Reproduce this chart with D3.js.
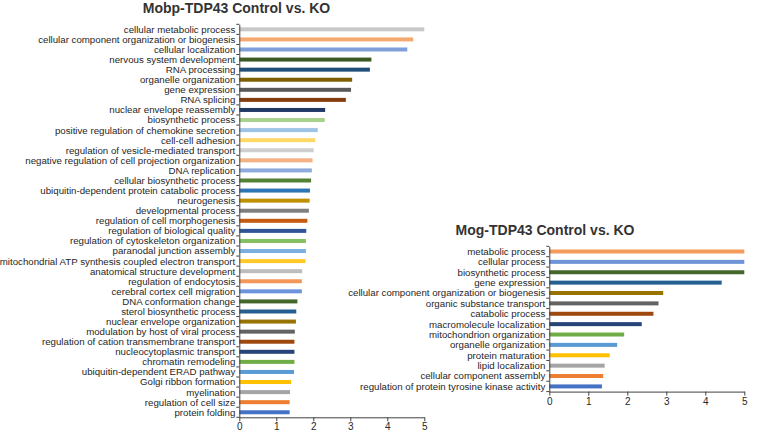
<!DOCTYPE html>
<html>
<head>
<meta charset="utf-8">
<script src="https://cdn.jsdelivr.net/npm/d3@7/dist/d3.min.js"></script>
<style>
  html, body { margin: 0; padding: 0; background: #ffffff; }
  svg { display: block; }
  text { font-family: "Liberation Sans", Arial, sans-serif; }
</style>
</head>
<body>
<svg id="chart" width="761" height="432"></svg>
<script>
// ---- Data ----
const leftTitle = "Mobp-TDP43 Control vs. KO";
const leftCategories = [
  "cellular metabolic process",
  "cellular component organization or biogenesis",
  "cellular localization",
  "nervous system development",
  "RNA processing",
  "organelle organization",
  "gene expression",
  "RNA splicing",
  "nuclear envelope reassembly",
  "biosynthetic process",
  "positive regulation of chemokine secretion",
  "cell-cell adhesion",
  "regulation of vesicle-mediated transport",
  "negative regulation of cell projection organization",
  "DNA replication",
  "cellular biosynthetic process",
  "ubiquitin-dependent protein catabolic process",
  "neurogenesis",
  "developmental process",
  "regulation of cell morphogenesis",
  "regulation of biological quality",
  "regulation of cytoskeleton organization",
  "paranodal junction assembly",
  "mitochondrial ATP synthesis coupled electron transport",
  "anatomical structure development",
  "regulation of endocytosis",
  "cerebral cortex cell migration",
  "DNA conformation change",
  "sterol biosynthetic process",
  "nuclear envelope organization",
  "modulation by host of viral process",
  "regulation of cation transmembrane transport",
  "nucleocytoplasmic transport",
  "chromatin remodeling",
  "ubiquitin-dependent ERAD pathway",
  "Golgi ribbon formation",
  "myelination",
  "regulation of cell size",
  "protein folding"
];
const leftValues = [
  5.0, 4.70, 4.54, 3.57, 3.53, 3.05, 3.02, 2.88, 2.32, 2.31,
  2.12, 2.05, 2.01, 1.98, 1.96, 1.94, 1.91, 1.90, 1.88, 1.84,
  1.81, 1.80, 1.80, 1.79, 1.70, 1.69, 1.69, 1.57, 1.54, 1.53,
  1.50, 1.49, 1.49, 1.49, 1.48, 1.40, 1.37, 1.36, 1.36
];
const leftColors = [
  "#c8c8c8", "#f5a96f", "#7f9fdb", "#3a5a24", "#1f4e79", "#7f6000", "#595959", "#843c0c", "#203864", "#a9d18e",
  "#9dc3e6", "#ffd966", "#cfcfcf", "#f4b183", "#8faadc", "#548235", "#2e75b6", "#bf9000", "#7f7f7f", "#c55a11",
  "#2f5597", "#84bf62", "#7aafe0", "#ffca28", "#bdbdbd", "#f4975a", "#6c93db", "#44672b", "#255e91", "#997300",
  "#636363", "#9e480e", "#264478", "#70ad47", "#5b9bd5", "#ffc000", "#a5a5a5", "#ed7d31", "#4472c4"
];

const rightTitle = "Mog-TDP43 Control vs. KO";
const rightCategories = [
  "metabolic process",
  "cellular process",
  "biosynthetic process",
  "gene expression",
  "cellular component organization or biogenesis",
  "organic substance transport",
  "catabolic process",
  "macromolecule localization",
  "mitochondrion organization",
  "organelle organization",
  "protein maturation",
  "lipid localization",
  "cellular component assembly",
  "regulation of protein tyrosine kinase activity"
];
const rightValues = [5.0, 5.0, 5.0, 4.42, 2.92, 2.80, 2.67, 2.37, 1.92, 1.74, 1.55, 1.42, 1.38, 1.35];
const rightColors = [
  "#f49a5a", "#6f95d8", "#44672b", "#255e91", "#997300", "#636363", "#9e480e",
  "#264478", "#70ad47", "#5b9bd5", "#ffc000", "#a5a5a5", "#ed7d31", "#4472c4"
];

const xTicks = [0, 1, 2, 3, 4, 5];

// ---- Drawing ----
const svg = d3.select("#chart");
const axisColor = "#404040";
const textColor = "#262626";

function drawPanel(cfg) {
  const g = svg.append("g");
  const x = d3.scaleLinear().domain([0, 5]).range([cfg.x0, cfg.x1]);
  const y = d3.scaleBand().domain(cfg.categories).range([cfg.y0, cfg.y1]).paddingInner(0).paddingOuter(0);
  const barH = 4;

  // bars
  g.selectAll("rect.bar")
    .data(cfg.categories.map((c, i) => ({ c, v: cfg.values[i], col: cfg.colors[i] })))
    .enter().append("rect")
    .attr("class", "bar")
    .attr("x", x(0))
    .attr("y", d => y(d.c) + y.bandwidth() / 2 - barH / 2)
    .attr("width", d => x(d.v) - x(0))
    .attr("height", barH)
    .attr("fill", d => d.col);

  // y axis (labels)
  const yAxis = g.append("g")
    .attr("transform", `translate(${x(0)},0)`)
    .call(d3.axisLeft(y).tickSize(0).tickPadding(4).tickSizeOuter(0));
  yAxis.select(".domain").attr("stroke", axisColor).attr("stroke-width", 1);
  yAxis.selectAll("text")
    .attr("fill", textColor)
    .style("font-size", cfg.labelSize + "px")
    .attr("dy", "0.35em");

  // boundary tick marks on y axis
  const bounds = cfg.categories.map(c => y(c)).concat([y.range()[1]]);
  g.selectAll("line.ytick")
    .data(bounds)
    .enter().append("line")
    .attr("x1", x(0) - 3).attr("x2", x(0))
    .attr("y1", d => d).attr("y2", d => d)
    .attr("stroke", axisColor).attr("stroke-width", 1);

  // x axis
  const xAxis = g.append("g")
    .attr("transform", `translate(0,${cfg.y1})`)
    .call(d3.axisBottom(x).tickValues(xTicks).tickFormat(d3.format("d")).tickSize(4).tickSizeOuter(0).tickPadding(2));
  xAxis.select(".domain").attr("stroke", axisColor);
  xAxis.selectAll(".tick line").attr("stroke", axisColor);
  xAxis.selectAll("text").attr("fill", textColor).style("font-size", "10px");

  // title
  g.append("text")
    .attr("x", cfg.titleX)
    .attr("y", cfg.titleY)
    .attr("text-anchor", "middle")
    .attr("fill", "#333333")
    .style("font-size", "14px")
    .style("font-weight", "bold")
    .text(cfg.title);
}

drawPanel({
  title: leftTitle, categories: leftCategories, values: leftValues, colors: leftColors,
  x0: 239.3, x1: 424.3, y0: 24.3, y1: 417.3, titleX: 236.5, titleY: 13, labelSize: 9.7
});

drawPanel({
  title: rightTitle, categories: rightCategories, values: rightValues, colors: rightColors,
  x0: 549.3, x1: 744.3, y0: 246.3, y1: 391.6, titleX: 545, titleY: 234.5, labelSize: 9.7
});
</script>
</body>
</html>
